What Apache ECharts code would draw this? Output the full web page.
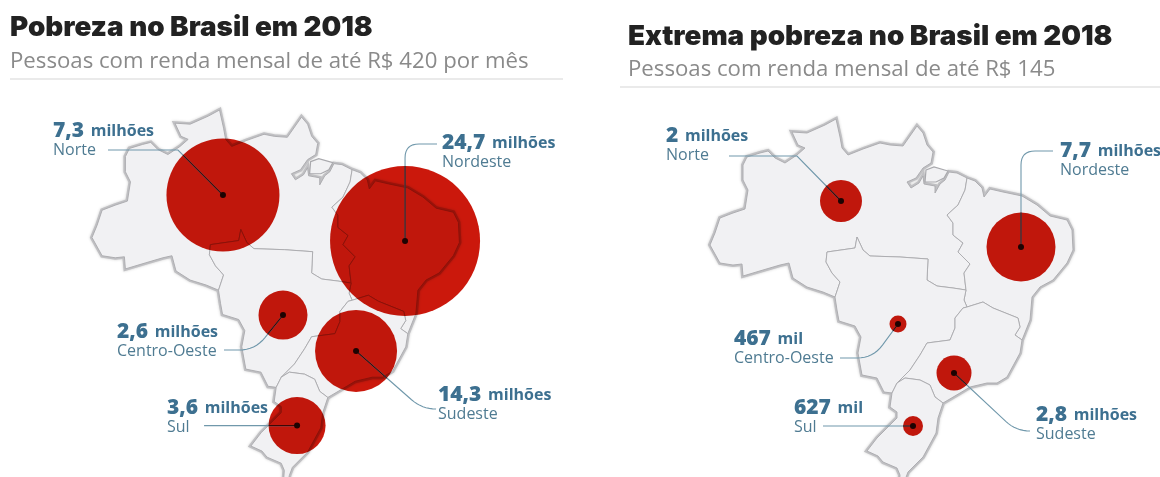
<!DOCTYPE html>
<html lang="pt-BR">
<head>
<meta charset="utf-8">
<title>Pobreza no Brasil em 2018</title>
<style>html,body{margin:0;padding:0;background:#fff}#c{width:1160px;height:477px}</style>
<script src="https://cdn.jsdelivr.net/npm/echarts@6/dist/echarts.min.js"></script>
</head>
<body>
<div id="c"></div>
<script>
// ---- Values, in millions of people ----
const regions = ['Norte', 'Nordeste', 'Centro-Oeste', 'Sudeste', 'Sul'];
const povertyValues = [7.3, 24.7, 2.6, 14.3, 3.6];
const extremeValues = [2, 7.7, 0.467, 2.8, 0.627];

// ---- Bubble anchor per region, in map units ----
const povertySites = [[839.4, 203], [1019.3, 248.4], [898.7, 321.6], [970.9, 357.1], [912.6, 430.8]];
const extremeSites = [[841, 201], [1021, 247], [898, 324], [954, 373], [913, 426]];

// ---- Map outline, in map units (x to the east, y to the south) ----
const coastNorth = [[835,297],[823,292],[807,287],[793,278],[789,263],[780,265],[763,270],[743,276],[742,264],[733,265],[720,263],[710,245],[715,233],[720,218],[733,213],[745,209],[748,190],[743,180],[743,165],[747,157],[760,153],[768,151],[775,158],[785,163],[797,155],[805,148],[798,145],[792,132],[807,133],[825,125],[836,119],[840,137],[842,148],[848,155],[863,149],[880,143],[890,145],[903,146],[917,126],[923,133],[927,145],[933,152],[931,163],[923,168],[916,178],[907,182],[911,188],[919,183],[923,176],[924,184],[935,186],[935,193],[940,184],[945,180],[949,172],[957,173],[967,178]];
const coastNortheast = [[967,178],[975,181],[982,188],[984,197],[990,189],[1003,192],[1022,196],[1037,205],[1050,216],[1067,220],[1072,230],[1073,250],[1067,263],[1053,280],[1040,287],[1032,297],[1030,320],[1022,340]];
const coastSoutheast = [[1022,340],[1020,353],[1007,377],[997,383],[987,383],[970,387],[960,393],[943,403]];
const coastSouth = [[943,403],[938,418],[936,433],[923,457],[908,472],[905,480],[903,490],[899,490],[900,475],[897,468],[883,462],[878,456],[867,451],[877,438],[890,425],[897,418],[897,412],[890,407],[892,393]];
const westCentre = [[892,393],[884,392],[877,378],[862,375],[858,353],[861,337],[855,326],[839,321],[837,310],[835,297]];
const borderNorthCentre = [[835,297],[840,282],[832,273],[826,262],[827,252],[855,248],[857,237],[863,250],[870,256],[900,257],[928,259],[927,280],[932,283],[937,286],[953,288],[966,290]];
const borderNorthNortheast = [[967,178],[965,190],[958,205],[947,215],[953,223],[953,235],[963,243],[958,252],[970,264],[964,273],[966,290]];
const borderCentreNortheast = [[966,290],[964,300],[967,307]];
const borderNortheastSoutheast = [[967,307],[983,302],[993,308],[1018,318],[1020,327],[1015,335],[1022,340]];
const borderCentreSoutheast = [[967,307],[963,308],[955,318],[955,328],[950,340],[927,343],[920,355],[910,370],[897,383]];
const borderSouthSoutheast = [[897,383],[905,378],[920,380],[930,385],[935,397],[943,403]];
const borderCentreSouth = [[892,393],[897,383]];
const marajoIsland = [[926,170],[934,167],[948,171],[944,178],[936,182],[925,182],[926,170]];

const rev = a => a.slice().reverse();
const ring = (...parts) => {
  const pts = [].concat(...parts);
  pts.push(pts[0]);
  return pts.map(p => [p[0], -p[1]]);
};
const feature = (name, pts) => ({
  type: 'Feature', properties: { name },
  geometry: { type: 'Polygon', coordinates: [pts] }
});
const brasilGeo = {
  type: 'FeatureCollection',
  features: [
    feature('Brasil', ring(coastNorth, coastNortheast, coastSoutheast, coastSouth, westCentre)),
    feature('Norte', ring(coastNorth, borderNorthNortheast, rev(borderNorthCentre))),
    feature('Nordeste', ring(coastNortheast, rev(borderNortheastSoutheast), rev(borderCentreNortheast), rev(borderNorthNortheast))),
    feature('Centro-Oeste', ring(borderNorthCentre, borderCentreNortheast, borderCentreSoutheast, rev(borderCentreSouth), westCentre)),
    feature('Sudeste', ring(borderNortheastSoutheast, coastSoutheast, rev(borderSouthSoutheast), rev(borderCentreSoutheast))),
    feature('Sul', ring(borderSouthSoutheast, coastSouth, borderCentreSouth)),
    feature('Marajó', ring(marajoIsland))
  ]
};
echarts.registerMap('brasil', brasilGeo);

// ---- Drawing settings ----
const BLUE_VALUE = '#3d7090';
const BLUE_NAME = '#4f7b92';
const LEADER = '#7098ab';
const FONT = '"Open Sans", "Noto Sans", sans-serif';
const TITLE_FONT = 'Inter, "Open Sans", sans-serif';

const panels = [
  {
    title: 'Pobreza no Brasil em 2018',
    subtitle: 'Pessoas com renda mensal de até R$ 420 por mês',
    values: povertyValues, sites: povertySites,
    diameters: [113, 150, 49, 82, 57],
    geo: { left: 92, top: 110, width: 367.4, height: 375.5 },
    titleAt: [10, 28], subtitleAt: [10, 62], rule: [10, 563, 79],
    labels: [[53, 130], [442, 142], [117, 331], [438, 394], [167, 407]],
    leaders: [
      { path: [[-45, -45], [-115, -45]], r: 0 },
      { path: [[0, -97], [32, -97]], r: 14 },
      { path: [[-28, 35], [-59, 35]], r: 16 },
      { path: [[66, 58], [77, 58]], r: 14 },
      { path: [[-93, 0]], r: 0 }
    ]
  },
  {
    title: 'Extrema pobreza no Brasil em 2018',
    subtitle: 'Pessoas com renda mensal de até R$ 145',
    values: extremeValues, sites: extremeSites,
    diameters: [42, 69, 17, 35, 20],
    geo: { left: 710, top: 119, width: 363, height: 371 },
    titleAt: [628, 37], subtitleAt: [628, 70], rule: [620, 1160, 87],
    labels: [[666, 135], [1060, 150], [734, 338], [1036, 414], [794, 407]],
    leaders: [
      { path: [[-44, -45], [-112, -45]], r: 0 },
      { path: [[0, -96], [32, -96]], r: 14 },
      { path: [[-25, 34], [-58, 34]], r: 16 },
      { path: [[62, 58], [74, 58]], r: 14 },
      { path: [[-90, 0]], r: 0 }
    ]
  }
];

// Portuguese number text: 24,7 milhões / 467 mil
const valueText = v => v < 1 ? String(Math.round(v * 1000)) : String(v).replace('.', ',');
const unitText = v => v < 1 ? 'mil' : 'milhões';

// Polyline through the vertices, with the inner corners rounded by radius r
function roundedPoints(pts, r) {
  if (!r) return pts;
  const out = [pts[0]];
  for (let i = 1; i < pts.length - 1; i++) {
    const p = pts[i], a = pts[i - 1], b = pts[i + 1];
    const la = Math.hypot(a[0] - p[0], a[1] - p[1]);
    const lb = Math.hypot(b[0] - p[0], b[1] - p[1]);
    const s = [p[0] + (a[0] - p[0]) * r / la, p[1] + (a[1] - p[1]) * r / la];
    const e = [p[0] + (b[0] - p[0]) * r / lb, p[1] + (b[1] - p[1]) * r / lb];
    for (let t = 0; t <= 1.001; t += 0.125) {
      const u = 1 - t;
      out.push([u * u * s[0] + 2 * u * t * p[0] + t * t * e[0],
                u * u * s[1] + 2 * u * t * p[1] + t * t * e[1]]);
    }
  }
  out.push(pts[pts.length - 1]);
  return out;
}

const geos = panels.map(p => ({
  map: 'brasil', roam: false, silent: true, aspectScale: 1,
  left: p.geo.left, top: p.geo.top, width: p.geo.width, height: p.geo.height,
  label: { show: false },
  itemStyle: { areaColor: '#f1f1f3', borderColor: '#a9a9ad', borderWidth: 0.9 },
  regions: [
    { name: 'Brasil', itemStyle: { areaColor: '#f1f1f3', borderColor: '#c0c0c3', borderWidth: 4, shadowColor: 'rgba(0,0,0,0.18)', shadowBlur: 3 } },
    { name: 'Marajó', itemStyle: { areaColor: '#f1f1f3', borderColor: '#a9a9ad', borderWidth: 1.2 } }
  ]
}));

const series = [];
panels.forEach((p, pi) => {
  // the map's y axis grows northward, so southward units are negated here
  const rows = regions.map((name, i) => ({ name, value: [p.sites[i][0], -p.sites[i][1], p.values[i]] }));
  series.push({
    type: 'scatter', coordinateSystem: 'geo', geoIndex: pi, silent: true, z: 3,
    data: rows,
    symbol: 'circle',
    symbolSize: (val, params) => p.diameters[params.dataIndex],
    // multiply keeps the map's borders visible through the bubbles
    blendMode: 'multiply',
    itemStyle: { color: 'rgb(203,24,12)', opacity: 1 }
  });
  series.push({
    type: 'custom', coordinateSystem: 'geo', geoIndex: pi, silent: true, z: 4,
    data: rows,
    renderItem: (params, api) => {
      const i = params.dataIndex;
      const c = api.coord([api.value(0), api.value(1)]);
      const lead = p.leaders[i];
      const abs = lead.path.map(o => [c[0] + o[0], c[1] + o[1]]);
      const pts = roundedPoints([c].concat(abs), lead.r);
      // the stretch inside the bubble reads as black
      const d = Math.hypot(lead.path[0][0], lead.path[0][1]);
      const rad = p.diameters[i] / 2;
      const edge = [c[0] + lead.path[0][0] / d * rad, c[1] + lead.path[0][1] / d * rad];
      return {
        type: 'group',
        children: [
          { type: 'polyline', shape: { points: pts }, style: { stroke: LEADER, fill: null, lineWidth: 1.1 } },
          { type: 'line', shape: { x1: c[0], y1: c[1], x2: edge[0], y2: edge[1] }, style: { stroke: '#3a0503', lineWidth: 1.1 } },
          { type: 'circle', shape: { cx: c[0], cy: c[1], r: 3 }, style: { fill: '#1d0302' } }
        ]
      };
    }
  });
});

const graphic = [];
panels.forEach(p => {
  graphic.push({
    type: 'text', x: p.titleAt[0], y: p.titleAt[1], z: 10,
    style: { text: p.title, fill: '#222', font: '900 27.8px ' + TITLE_FONT, verticalAlign: 'middle', align: 'left' }
  });
  graphic.push({
    type: 'text', x: p.subtitleAt[0], y: p.subtitleAt[1], z: 10,
    style: { text: p.subtitle, fill: '#8a8a8a', font: '400 22.2px ' + FONT, verticalAlign: 'middle', align: 'left' }
  });
  graphic.push({
    type: 'line', z: 10,
    shape: { x1: p.rule[0], y1: p.rule[2], x2: p.rule[1], y2: p.rule[2] },
    style: { stroke: '#e3e3e3', lineWidth: 1.5 }
  });
  regions.forEach((name, i) => {
    const v = p.values[i];
    graphic.push({
      type: 'text', x: p.labels[i][0], y: p.labels[i][1] - 9, z: 10,
      style: {
        text: '{v|' + valueText(v) + '}  {u|' + unitText(v) + '}\n{r|' + name + '}',
        align: 'left', verticalAlign: 'top',
        rich: {
          v: { font: '800 21px ' + FONT, fill: BLUE_VALUE, lineHeight: 21 },
          u: { font: '700 16px ' + FONT, fill: BLUE_VALUE, lineHeight: 21 },
          r: { font: '400 16px ' + FONT, fill: BLUE_NAME, lineHeight: 16 }
        }
      }
    });
  });
});

const chart = echarts.init(document.getElementById('c'), null, { renderer: 'canvas' });
chart.setOption({ animation: false, backgroundColor: '#fff', geo: geos, series, graphic });
</script>
</body>
</html>
